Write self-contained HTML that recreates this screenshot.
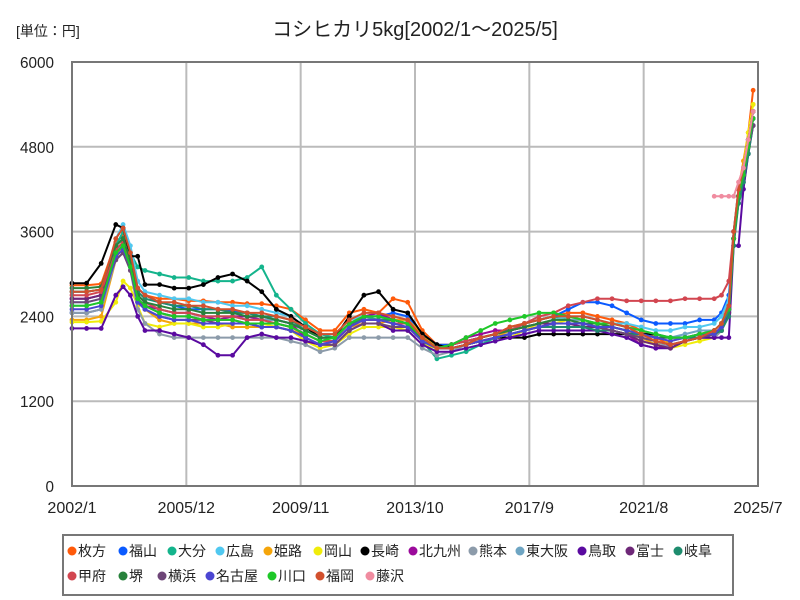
<!DOCTYPE html>
<html><head><meta charset="utf-8"><style>
body{margin:0;background:#fff;}
svg{display:block;font-family:"Liberation Sans","Noto Sans CJK JP",sans-serif;}
</style></head><body>
<svg id="chart" width="800" height="600" xmlns="http://www.w3.org/2000/svg">
<rect width="800" height="600" fill="#fff"/>
<text x="415" y="36" font-size="20" text-anchor="middle" fill="#222">コシヒカリ5kg[2002/1～2025/5]</text>
<text x="16" y="36" font-size="14" fill="#222">[単位：円]</text>
<g id="grid"></g>
<g id="yticks"></g>
<g id="xticks"></g>
<g id="series"></g>
<rect x="72" y="62" width="686" height="424" fill="none" stroke="#777" stroke-width="2"/>
<rect x="63" y="535" width="670" height="60" fill="#fff" stroke="#777" stroke-width="2"/>
<g id="legend"></g>
</svg>
<script>
const dates=["2002/1","2002/7","2003/1","2003/7","2003/10","2004/1","2004/4","2004/7","2005/1","2005/7","2006/1","2006/7","2007/1","2007/7","2008/1","2008/7","2009/1","2009/7","2010/1","2010/7","2011/1","2011/7","2012/1","2012/7","2013/1","2013/7","2014/1","2014/7","2015/1","2015/7","2016/1","2016/7","2017/1","2017/7","2018/1","2018/7","2019/1","2019/7","2020/1","2020/7","2021/1","2021/7","2022/1","2022/7","2023/1","2023/7","2024/1","2024/4","2024/7","2024/9","2024/11","2025/1","2025/3","2025/5"];
const seriesNames=["枚方","福山","大分","広島","姫路","岡山","長崎","北九州","熊本","東大阪","鳥取","富士","岐阜","甲府","堺","横浜","名古屋","川口","福岡","藤沢"];
const seriesColors=["#ff5a0a","#0a5aff","#14b48c","#50c8f0","#f5a50a","#f0ec0a","#000000","#9b0a9b","#8c9baa","#6ea5c3","#5a0aa0","#6e2878","#1e8c6e","#d24650","#28823c","#6e4678","#4b46d2","#1ec828","#d2502d","#f08ca0"];
const yTicks=[0,1200,2400,3600,4800,6000];
const xTickLabels=["2002/1","2005/12","2009/11","2013/10","2017/9","2021/8","2025/7"];
const v枚方=[2840,2840,2860,3450,3550,3300,2800,2700,2650,2650,2620,2620,2600,2600,2580,2580,2550,2500,2350,2200,2200,2450,2500,2450,2650,2600,2200,2000,2000,2050,2100,2150,2250,2300,2350,2400,2450,2450,2400,2350,2300,2200,2100,2000,2050,2100,2200,2300,2600,3600,4200,4500,5000,5600];
const v福山=[2450,2450,2500,3300,3400,3200,2800,2700,2600,2550,2500,2500,2500,2480,2450,2400,2350,2300,2200,2100,2100,2300,2400,2400,2450,2400,2150,2000,2000,2050,2100,2150,2200,2300,2350,2400,2500,2600,2600,2550,2450,2350,2300,2300,2300,2350,2350,2450,2700,3600,4100,4400,4900,5300];
const v大分=[2750,2750,2780,3400,3600,3300,3100,3050,3000,2950,2950,2900,2900,2900,2950,3100,2700,2500,2300,2150,2100,2300,2400,2350,2350,2300,2050,1800,1850,1900,2000,2100,2200,2300,2350,2400,2350,2350,2300,2250,2200,2150,2150,2100,2100,2100,2150,2250,2500,3500,4000,4200,4700,5200];
const v広島=[2600,2600,2650,3500,3700,3400,2900,2750,2700,2650,2650,2600,2600,2550,2550,2500,2450,2400,2250,2150,2150,2350,2400,2400,2350,2350,2100,1950,1950,2000,2050,2100,2200,2250,2300,2350,2400,2400,2350,2300,2300,2250,2200,2200,2250,2250,2300,2400,2650,3600,4200,4500,4900,5300];
const v姫路=[2350,2350,2400,3200,3450,3150,2650,2500,2350,2300,2300,2300,2300,2250,2250,2250,2250,2200,2150,2050,2050,2250,2300,2300,2350,2350,2150,1950,1950,2000,2050,2100,2200,2250,2300,2350,2350,2350,2300,2250,2200,2100,2000,2050,2100,2150,2200,2300,2500,3500,4200,4600,5000,5400];
const v岡山=[2320,2320,2330,2600,2900,2800,2550,2300,2250,2300,2300,2250,2250,2300,2300,2300,2250,2200,2050,1950,2000,2150,2250,2250,2250,2200,2000,1950,1950,2000,2050,2100,2100,2200,2300,2300,2350,2300,2250,2200,2150,2050,2000,1950,2000,2050,2100,2200,2500,3500,4100,4500,5000,5400];
const v長崎=[2870,2870,3150,3700,3650,3250,3250,2850,2850,2800,2800,2850,2950,3000,2900,2750,2500,2400,2250,2100,2100,2400,2700,2750,2500,2450,2150,2000,1950,2000,2050,2100,2100,2100,2150,2150,2150,2150,2150,2150,2150,2150,2150,2100,2100,2100,2100,2200,2500,3500,4100,4400,4900,5300];
const v北九州=[2650,2650,2700,3400,3500,3150,2600,2550,2500,2450,2450,2400,2350,2400,2400,2350,2350,2300,2100,2000,2050,2250,2400,2450,2350,2300,2050,1950,2000,2100,2150,2200,2200,2250,2300,2300,2300,2300,2250,2200,2150,2000,1950,2000,2050,2100,2100,2200,2500,3500,4000,4300,4800,5200];
const v熊本=[2450,2450,2500,3200,3300,3050,2500,2300,2150,2100,2100,2100,2100,2100,2100,2100,2100,2050,2000,1900,1950,2100,2100,2100,2100,2100,1950,1850,1900,2000,2050,2100,2150,2200,2250,2250,2250,2250,2200,2200,2150,2100,2050,1950,2050,2100,2100,2200,2450,3500,4100,4400,4800,5200];
const v東大阪=[2550,2550,2600,3300,3450,3150,2700,2600,2500,2450,2450,2400,2400,2400,2350,2350,2350,2300,2200,2100,2100,2300,2350,2350,2350,2300,2100,1950,1950,2000,2100,2150,2200,2250,2300,2350,2350,2350,2300,2300,2250,2200,2150,2100,2150,2200,2200,2300,2550,3600,4200,4500,4900,5300];
const v鳥取=[2230,2230,2230,2700,2820,2700,2400,2200,2200,2150,2100,2000,1850,1850,2100,2150,2100,2100,2050,2000,2000,2200,2300,2300,2200,2200,2000,1900,1900,1950,2000,2050,2100,2150,2200,2200,2200,2200,2200,2150,2100,2000,1950,1950,2050,2100,2100,2100,2100,3400,3400,4200,4700,5100];
const v富士=[2650,2650,2700,3300,3400,3100,2650,2550,2450,2400,2400,2350,2350,2350,2300,2300,2300,2250,2150,2050,2050,2250,2350,2350,2350,2300,2050,1950,2000,2050,2100,2150,2200,2250,2300,2300,2300,2250,2250,2200,2150,2050,2000,1950,2050,2100,2150,2200,2450,3500,4100,4400,4800,5100];
const v岐阜=[2750,2750,2780,3400,3500,3200,2750,2650,2600,2550,2550,2500,2500,2450,2450,2400,2400,2350,2200,2100,2100,2300,2350,2350,2350,2300,2100,1950,1950,2000,2050,2100,2150,2200,2250,2250,2250,2250,2200,2200,2150,2150,2100,2100,2100,2100,2150,2200,2400,3400,4000,4300,4700,5100];
const v甲府=[2700,2700,2750,3350,3450,3150,2700,2600,2500,2450,2450,2400,2400,2400,2350,2350,2300,2250,2150,2050,2050,2250,2350,2350,2300,2300,2050,1950,2000,2050,2100,2150,2200,2300,2400,2450,2550,2600,2650,2650,2620,2620,2620,2620,2650,2650,2650,2700,2900,3600,4100,4400,4800,5200];
const v堺=[2800,2800,2820,3400,3500,3200,2700,2600,2550,2500,2500,2450,2450,2450,2400,2400,2350,2300,2200,2100,2100,2300,2400,2400,2350,2300,2050,1950,1950,2000,2100,2150,2200,2250,2300,2350,2350,2300,2300,2250,2200,2150,2100,2100,2100,2150,2150,2250,2500,3500,4100,4400,4800,5200];
const v横浜=[2600,2600,2650,3200,3300,3050,2600,2500,2400,2350,2350,2350,2300,2300,2300,2250,2250,2200,2100,2000,2000,2200,2300,2300,2250,2250,2050,1950,1950,2000,2050,2100,2150,2200,2250,2300,2300,2300,2250,2200,2150,2100,2050,2000,2050,2100,2150,2250,2500,3500,4100,4400,4800,5100];
const v名古屋=[2500,2500,2550,3250,3350,3100,2600,2500,2400,2350,2350,2300,2300,2300,2300,2250,2250,2200,2100,2000,2050,2250,2350,2350,2300,2250,2050,1950,1950,2000,2050,2100,2150,2200,2250,2300,2300,2300,2250,2250,2200,2150,2100,2050,2100,2150,2150,2250,2500,3600,4100,4400,4800,5200];
const v川口=[2550,2550,2600,3300,3400,3100,2650,2550,2450,2400,2400,2350,2350,2350,2300,2300,2300,2250,2150,2050,2100,2300,2400,2400,2350,2300,2100,1950,2000,2100,2200,2300,2350,2400,2450,2450,2400,2350,2300,2300,2250,2200,2150,2100,2100,2150,2200,2300,2500,3500,4100,4400,4800,5200];
const v福岡=[2750,2750,2780,3500,3650,3300,2800,2700,2600,2600,2550,2550,2500,2500,2450,2450,2400,2350,2250,2150,2150,2350,2450,2450,2400,2350,2100,1950,1950,2000,2100,2150,2250,2300,2350,2400,2400,2400,2350,2300,2250,2150,2050,2000,2050,2100,2200,2300,2550,3600,4200,4500,4900,5300];
const v藤沢=[null,null,null,null,null,null,null,null,null,null,null,null,null,null,null,null,null,null,null,null,null,null,null,null,null,null,null,null,null,null,null,null,null,null,null,null,null,null,null,null,null,null,null,null,null,null,4100,4100,4100,4100,4300,4500,4900,5300];
const seriesValues=[v枚方,v福山,v大分,v広島,v姫路,v岡山,v長崎,v北九州,v熊本,v東大阪,v鳥取,v富士,v岐阜,v甲府,v堺,v横浜,v名古屋,v川口,v福岡,v藤沢];

const NS="http://www.w3.org/2000/svg";
const X0=72,X1=758,Y0=486,Y1=62,YMAX=6000;
function monthIdx(d){const p=d.split("/");return (+p[0]-2002)*12+(+p[1]-1);}
const MTOTAL=monthIdx("2025/7");
function xScale(d){return X0+monthIdx(d)*(X1-X0)/MTOTAL;}
function yScale(v){return Y0-v*(Y0-Y1)/YMAX;}
function mk(tag,attrs,parent){const e=document.createElementNS(NS,tag);for(const k in attrs)e.setAttribute(k,attrs[k]);parent.appendChild(e);return e;}

const grid=document.getElementById("grid"),yt=document.getElementById("yticks"),xt=document.getElementById("xticks");
yTicks.forEach(v=>{
  const y=yScale(v);
  if(v>0&&v<YMAX){const l=mk("line",{x1:X0,x2:X1,y1:y,y2:y,stroke:"#bbb","stroke-width":2},grid);
    
    }
  const t=mk("text",{x:54,y:y+6,"font-size":16,"text-anchor":"end",fill:"#222",textLength:String(v).length*8.5,lengthAdjust:"spacingAndGlyphs"},yt);t.textContent=v;
  
  
});
xTickLabels.forEach((d,i)=>{
  const x=xScale(d);
  if(i>0&&i<xTickLabels.length-1){const l=mk("line",{x1:x,x2:x,y1:Y1,y2:Y0,stroke:"#bbb","stroke-width":2},grid);
    
    }
  const t=mk("text",{x:x,y:513,"font-size":16,"text-anchor":"middle",fill:"#222",textLength:d.length*8.2,lengthAdjust:"spacingAndGlyphs"},xt);t.textContent=d;
  
  
});

const sg=document.getElementById("series");
seriesValues.forEach((vals,si)=>{
  const g=mk("g",{},sg);
  
  
  let d="",pen=false;
  vals.forEach((v,i)=>{
    if(v===null){pen=false;return;}
    d+=(pen?"L":"M")+xScale(dates[i]).toFixed(1)+" "+yScale(v).toFixed(1);pen=true;
  });
  const p=mk("path",{d:d,fill:"none",stroke:seriesColors[si],"stroke-width":2},g);
  
  
  vals.forEach((v,i)=>{
    if(v===null)return;
    const c=mk("circle",{cx:xScale(dates[i]),cy:yScale(v),r:2.4,fill:seriesColors[si]},g);
    
    
  });
});

const lg=document.getElementById("legend");
const lx=[72,123,172,220,268,318,365,413,473,520,582,630,678,72,123,162,210,272,320,370];
seriesNames.forEach((n,i)=>{
  const row=i<13?0:1;const y=row?576:551;
  const e=mk("g",{},lg);
  
  
  mk("circle",{cx:lx[i],cy:y,r:4.5,fill:seriesColors[i]},e);
  const t=mk("text",{x:lx[i]+6,y:y+5,"font-size":14,fill:"#222"},e);t.textContent=n;
});
</script>
</body></html>
